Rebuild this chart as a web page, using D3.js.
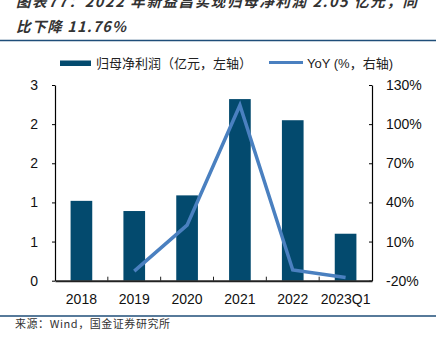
<!DOCTYPE html>
<html><head><meta charset="utf-8">
<script src="https://cdn.jsdelivr.net/npm/d3@7/dist/d3.min.js"></script>
<style>
html,body{margin:0;padding:0;background:#fff;}
svg{display:block;}
</style></head>
<body>
<script>
const categories = ["2018","2019","2020","2021","2022","2023Q1"];
const profit = [1.02, 0.89, 1.09, 2.32, 2.05, 0.60];
const yoy = [null, -12.7, 22.6, 114.5, -11.76, -17.5];
const leftTicks = [0, 0.5, 1, 1.5, 2, 2.5];
const rightTicks = [-20, 10, 40, 70, 100, 130];
const titleLines = ["图表77：2022 年新益昌实现归母净利润 2.05 亿元，同", "比下降 11.76%"];
const legendLabels = ["归母净利润（亿元，左轴）", "YoY (%，右轴)"];
const sourceText = "来源：Wind，国金证券研究所";

(function () {
const W = 441, H = 342;
const barColor = "#034a6e", lineColor = "#4a80c0", ruleColor = "#1f4e79";
const cjk = "'Noto Sans CJK SC', 'Liberation Sans', sans-serif";
const latin = "'Liberation Sans', Arial, 'Noto Sans CJK SC', sans-serif";

const svg = d3.select("body").append("svg").attr("width", W).attr("height", H);

// title
svg.append("text").attr("x", 16).attr("y", 7).text(titleLines[0])
  .attr("font-family", cjk).attr("font-size", 14.5).attr("font-style", "italic").attr("font-weight", "bold")
  .attr("fill", "#333").attr("textLength", 401).attr("lengthAdjust", "spacing");
svg.append("text").attr("x", 16).attr("y", 32).text(titleLines[1])
  .attr("font-family", cjk).attr("font-size", 14.5).attr("font-style", "italic").attr("font-weight", "bold")
  .attr("fill", "#333").attr("textLength", 110).attr("lengthAdjust", "spacing");

// rules
svg.append("line").attr("x1", 0).attr("x2", 436).attr("y1", 40.5).attr("y2", 40.5).attr("stroke", ruleColor).attr("stroke-width", 1.5);
svg.append("line").attr("x1", 0).attr("x2", 436).attr("y1", 316).attr("y2", 316).attr("stroke", ruleColor).attr("stroke-width", 1.5);

// source
svg.append("text").attr("x", 15).attr("y", 328).text(sourceText)
  .attr("font-family", "'Noto Sans CJK SC', 'DejaVu Sans Mono', monospace").attr("font-size", 11)
  .attr("fill", "#333").attr("textLength", 155).attr("lengthAdjust", "spacing");

// legend
const lg = svg.append("g");
lg.append("rect").attr("x", 60).attr("y", 60.5).attr("width", 31).attr("height", 5.5).attr("fill", barColor);
lg.append("text").attr("x", 96).attr("y", 68).text(legendLabels[0]).attr("font-family", cjk).attr("font-size", 13).attr("fill", "#222");
lg.append("line").attr("x1", 269).attr("x2", 303).attr("y1", 62.5).attr("y2", 62.5).attr("stroke", lineColor).attr("stroke-width", 3);
lg.append("text").attr("x", 307).attr("y", 68).text(legendLabels[1]).attr("font-family", latin).attr("font-size", 13).attr("fill", "#222");

// scales
const pL = 55, pR = 372, pT = 85, pB = 280.7;
const x = d3.scaleBand().domain(categories).range([pL, pR]).paddingInner(0.59).paddingOuter(0.295);
const yL = d3.scaleLinear().domain([0, 2.5]).range([pB, pT]);
const yR = d3.scaleLinear().domain([-20, 130]).range([pB, pT]);

// bars
svg.append("g").selectAll("rect").data(profit).join("rect")
  .attr("x", (d, i) => x(categories[i])).attr("width", x.bandwidth())
  .attr("y", d => yL(d)).attr("height", d => yL(0) - yL(d)).attr("fill", barColor);

// line
const pts = yoy.map((v, i) => ({c: categories[i], v})).filter(d => d.v !== null);
svg.append("path").datum(pts)
  .attr("d", d3.line().x(d => x(d.c) + x.bandwidth() / 2).y(d => yR(d.v)))
  .attr("fill", "none").attr("stroke", lineColor).attr("stroke-width", 3.5).attr("stroke-linejoin", "miter");

// axes
const axL = svg.append("g").attr("transform", `translate(${pL},0)`)
  .call(d3.axisLeft(yL).tickValues(leftTicks).tickFormat(d => Math.round(d)).tickSizeInner(3).tickSizeOuter(0).tickPadding(14));
const axR = svg.append("g").attr("transform", `translate(${pR},0)`)
  .call(d3.axisRight(yR).tickValues(rightTicks).tickFormat(d => d + "%").tickSizeInner(-3).tickSizeOuter(0).tickPadding(14));
[axL, axR].forEach(a => {
  a.select(".domain").attr("stroke", "#000").attr("stroke-width", 1.2);
  a.selectAll(".tick line").attr("stroke", "#000");
  a.selectAll("text").attr("font-family", latin).attr("font-size", 14).attr("fill", "#111");
});

const axB = svg.append("g").attr("transform", `translate(0,${pB})`)
  .call(d3.axisBottom(x).tickSize(0).tickPadding(13));
axB.select(".domain").attr("stroke", "#222").attr("stroke-width", 2);
axB.selectAll("text").attr("font-family", latin).attr("font-size", 14).attr("fill", "#111");
// category boundary ticks pointing up
const bounds = categories.slice(1).map(c => x(c) - x.step() * x.paddingInner() / 2);
svg.append("g").selectAll("line").data(bounds).join("line")
  .attr("x1", d => d).attr("x2", d => d).attr("y1", pB).attr("y2", pB - 4)
  .attr("stroke", "#222").attr("stroke-width", 1);
})();
</script>
</body></html>
